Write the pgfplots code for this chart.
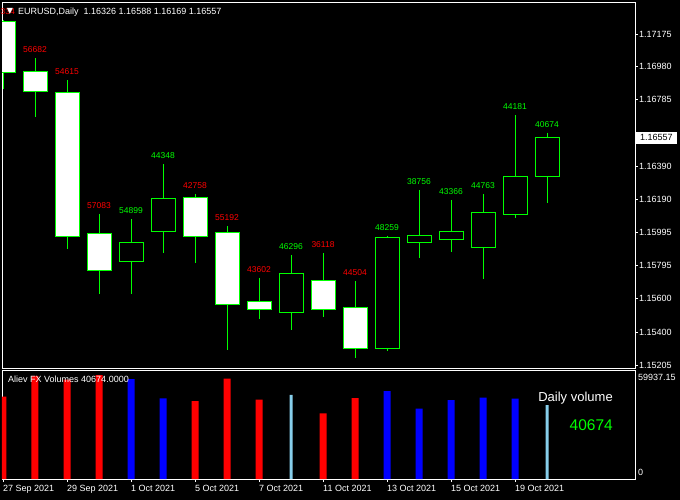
\documentclass[border=0pt]{standalone}
\usepackage{fontspec}
\setmainfont{Liberation Sans}
\newfontfamily\dejavu{DejaVu Sans}
\usepackage{pgfplots}
\usepackage{pgfplotstable}
\pgfplotsset{compat=1.18}
\definecolor{mtgreen}{RGB}{0,255,0}
\definecolor{mtred}{RGB}{255,0,0}
\definecolor{mtblue}{RGB}{0,0,255}
\definecolor{mtsky}{RGB}{135,206,235}
% x o h l c d(1=bear) v(volume) vc(0 red,1 blue,2 skyblue)
\pgfplotstableread{
x o h l c d v vc
0 1.17252 1.17258 1.16848 1.16949 1 45334 0
1 1.16955 1.17032 1.16681 1.16836 1 56682 0
2 1.16830 1.16901 1.15895 1.15969 1 54615 0
3 1.15985 1.16104 1.15627 1.15770 1 57083 0
4 1.15824 1.16074 1.15627 1.15937 0 54899 1
5 1.15997 1.16401 1.15872 1.16199 0 44348 1
6 1.16205 1.16223 1.15812 1.15967 1 42758 0
7 1.15991 1.16032 1.15294 1.15568 1 55192 0
8 1.15580 1.15723 1.15479 1.15538 1 43602 0
9 1.15520 1.15860 1.15413 1.15752 0 46296 2
10 1.15705 1.15872 1.15491 1.15538 1 36118 0
11 1.15550 1.15705 1.15247 1.15306 1 44504 0
12 1.15306 1.15973 1.15288 1.15961 0 48259 1
13 1.15937 1.16247 1.15842 1.15973 0 38756 1
14 1.15955 1.16187 1.15878 1.15997 0 43366 1
15 1.15907 1.16223 1.15717 1.16110 0 44763 1
16 1.16098 1.16693 1.16080 1.16330 0 44181 1
17 1.16326 1.16588 1.16169 1.16557 0 40674 2
}\candles
\begin{document}
\begin{tikzpicture}
\fill[black] (0,0) rectangle (680pt,-500pt);
% ---------------- main price panel ----------------
\begin{axis}[
  at={(2pt,-2pt)}, anchor=north west,
  width=633pt, height=366pt, scale only axis,
  xmin=-0.03125, xmax=19.75, ymin=1.15187, ymax=1.17366,
  clip mode=individual,
  axis line style={white, line width=0.8pt},
  xtick=\empty,
  ytick={1.17175,1.16980,1.16785,1.16585,1.16390,1.16190,1.15995,1.15795,1.15600,1.15400,1.15205},
  yticklabels={1.17175,1.16980,1.16785,{},1.16390,1.16190,1.15995,1.15795,1.15600,1.15400,1.15205},
  ytick pos=right, yticklabel pos=right,
  tick align=outside, major tick length=3pt,
  tick style={white, line width=0.8pt},
  yticklabel style={font=\fontsize{9}{11}\selectfont, text=white, anchor=west, inner sep=0pt, xshift=1pt},
]
\addplot[draw=none, mark=none, restrict expr to domain={\thisrow{d}}{0.5:1.5},
  nodes near coords, point meta=explicit symbolic,
  every node near coord/.append style={font=\fontsize{8.5}{9}\selectfont, text=mtred, anchor=base, inner sep=0pt, yshift=5.5pt},
  error bars/.cd, y dir=minus, y explicit, error mark=none,
  error bar style={draw=mtgreen, line width=1pt, solid}]
  table[x=x, y=h, y error expr=\thisrow{h}-\thisrow{l}, meta=v] {\candles};
\addplot[draw=none, mark=none, restrict expr to domain={\thisrow{d}}{-0.5:0.5},
  nodes near coords, point meta=explicit symbolic,
  every node near coord/.append style={font=\fontsize{8.5}{9}\selectfont, text=mtgreen, anchor=base, inner sep=0pt, yshift=5.5pt},
  error bars/.cd, y dir=minus, y explicit, error mark=none,
  error bar style={draw=mtgreen, line width=1pt, solid}]
  table[x=x, y=h, y error expr=\thisrow{h}-\thisrow{l}, meta=v] {\candles};
\node[anchor=center, inner sep=0pt, text=white, font=\dejavu\fontsize{8}{9}\selectfont] at (rel axis cs:0.0126,0.973) {▼};
\node[anchor=west, inner sep=0pt, text=white, font=\fontsize{9}{11}\selectfont] at (rel axis cs:0.0253,0.973) {EURUSD,Daily\ \ 1.16326 1.16588 1.16169 1.16557};
\node[anchor=west, fill=white, text=black, inner xsep=4pt, inner ysep=0pt, minimum height=12pt, font=\fontsize{9}{11}\selectfont, xshift=1pt] at (axis cs:19.75,1.16557) {1.16557};
\end{axis}
% ---------------- candle bodies ----------------
\begin{axis}[
  at={(2pt,-2pt)}, anchor=north west,
  width=633pt, height=366pt, scale only axis,
  xmin=-0.03125, xmax=19.75, ymin=1.15187, ymax=1.17366,
  hide axis, ybar stacked, bar width=0.75,
]
\addplot[draw=none, fill=none] table[x=x, y expr={min(\thisrow{o},\thisrow{c})}] {\candles};
\addplot[draw=mtgreen, fill=white, line width=1pt] table[x=x, y expr={abs(\thisrow{o}-\thisrow{c})*\thisrow{d}}] {\candles};
\addplot[draw=mtgreen, fill=black, line width=1pt] table[x=x, y expr={abs(\thisrow{o}-\thisrow{c})*(1-\thisrow{d})}] {\candles};
\end{axis}
% ---------------- volume panel ----------------
\begin{axis}[
  at={(2pt,-370pt)}, anchor=north west,
  width=633pt, height=109pt, scale only axis,
  xmin=-0.03125, xmax=19.75, ymin=0, ymax=59937.15,
  clip mode=individual,
  scaled y ticks=false,
  axis line style={white, line width=0.8pt},
  xtick={0,2,4,6,8,10,12,14,16},
  xticklabels={27 Sep 2021,29 Sep 2021,1 Oct 2021,5 Oct 2021,7 Oct 2021,11 Oct 2021,13 Oct 2021,15 Oct 2021,19 Oct 2021},
  xtick pos=bottom,
  tick align=outside, major tick length=3pt,
  xtick style={white, line width=0.8pt},
  xticklabel style={font=\fontsize{9}{11}\selectfont, text=white, anchor=north west, inner sep=0pt, yshift=-3.5pt},
  ytick={3850,56090}, yticklabels={0,59937.15},
  ytick pos=right, yticklabel pos=right,
  ytick style={draw=none},
  yticklabel style={font=\fontsize{9}{11}\selectfont, text=white, anchor=west, inner sep=0pt, xshift=0pt},
]
\addplot[ybar, bar width=0.21875, fill=mtred, draw=none, restrict expr to domain={\thisrow{vc}}{-0.5:0.5}] table[x=x, y=v] {\candles};
\addplot[ybar, bar width=0.21875, fill=mtblue, draw=none, restrict expr to domain={\thisrow{vc}}{0.5:1.5}] table[x=x, y=v] {\candles};
\addplot[ybar, bar width=0.09375, fill=mtsky, draw=none, restrict expr to domain={\thisrow{vc}}{1.5:2.5}] table[x=x, y=v] {\candles};
\node[anchor=west, inner sep=0pt, text=white, font=\fontsize{9}{11}\selectfont] at (rel axis cs:0.0095,0.917) {Aliev FX Volumes 40674.0000};
\node[anchor=east, inner sep=0pt, text=white, font=\fontsize{13}{15}\selectfont] at (rel axis cs:0.9652,0.743) {Daily volume};
\node[anchor=east, inner sep=0pt, text=mtgreen, font=\fontsize{15.5}{18}\selectfont] at (rel axis cs:0.9652,0.495) {40674};
\end{axis}
\pgfresetboundingbox
\path (0,0) rectangle (680pt,-500pt);
\end{tikzpicture}
\end{document}
